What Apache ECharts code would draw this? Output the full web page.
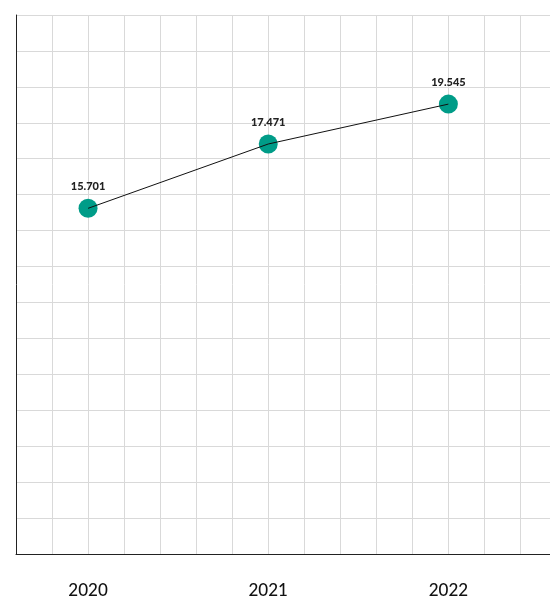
<!DOCTYPE html>
<html>
<head>
<meta charset="utf-8">
<script src="https://cdn.jsdelivr.net/npm/echarts@6/dist/echarts.min.js"></script>
<style>
  html, body { margin: 0; padding: 0; background: #fff; }
  #chart { width: 550px; height: 599px; }
</style>
</head>
<body>
<div id="chart"></div>
<script>
// years on the x axis
const years = [2020, 2021, 2022];
// printed value labels
const valueLabels = ['15.701', '17.471', '19.545'];
// point heights (grid units, bottom = 0)
const plotted = [9.62, 11.41, 12.52];

const pts = years.map((y, i) => [y, plotted[i], valueLabels[i]]);

const chart = echarts.init(document.getElementById('chart'), null, { renderer: 'canvas' });
chart.setOption({
  backgroundColor: '#fff',
  animation: false,
  grid: { left: 16, right: 0, top: 15, bottom: 45 },
  xAxis: {
    type: 'value',
    min: 2019.6,
    max: 2022.564,
    interval: 0.2,
    axisLine: { show: true, lineStyle: { color: '#222', width: 1 } },
    axisTick: { show: false },
    axisLabel: {
      margin: 28,
      fontSize: 17,
      fontFamily: 'Lato',
      fontWeight: 500,
      color: '#111',
      showMinLabel: false,
      showMaxLabel: false,
      formatter: v => (Math.abs(v - Math.round(v)) < 1e-6 ? String(Math.round(v)) : '')
    },
    splitLine: { show: true, lineStyle: { color: '#d9d9d9', width: 1 } }
  },
  yAxis: {
    type: 'value',
    min: 0,
    max: 15,
    interval: 1,
    axisLine: { show: true, lineStyle: { color: '#222', width: 1 } },
    axisTick: { show: false },
    axisLabel: { show: false },
    splitLine: { show: true, lineStyle: { color: '#d9d9d9', width: 1 } }
  },
  series: [
    {
      type: 'scatter',
      z: 2,
      data: pts,
      symbolSize: 19,
      itemStyle: { color: '#009c88', opacity: 1 },
      label: {
        show: true,
        position: 'top',
        distance: 7,
        formatter: p => p.data[2],
        fontFamily: 'Lato',
        fontWeight: 900,
        fontSize: 11,
        color: '#222'
      },
      emphasis: { disabled: true }
    },
    {
      type: 'line',
      z: 3,
      data: pts,
      showSymbol: false,
      lineStyle: { color: '#111', width: 1 },
      emphasis: { disabled: true }
    }
  ]
});
</script>
</body>
</html>
